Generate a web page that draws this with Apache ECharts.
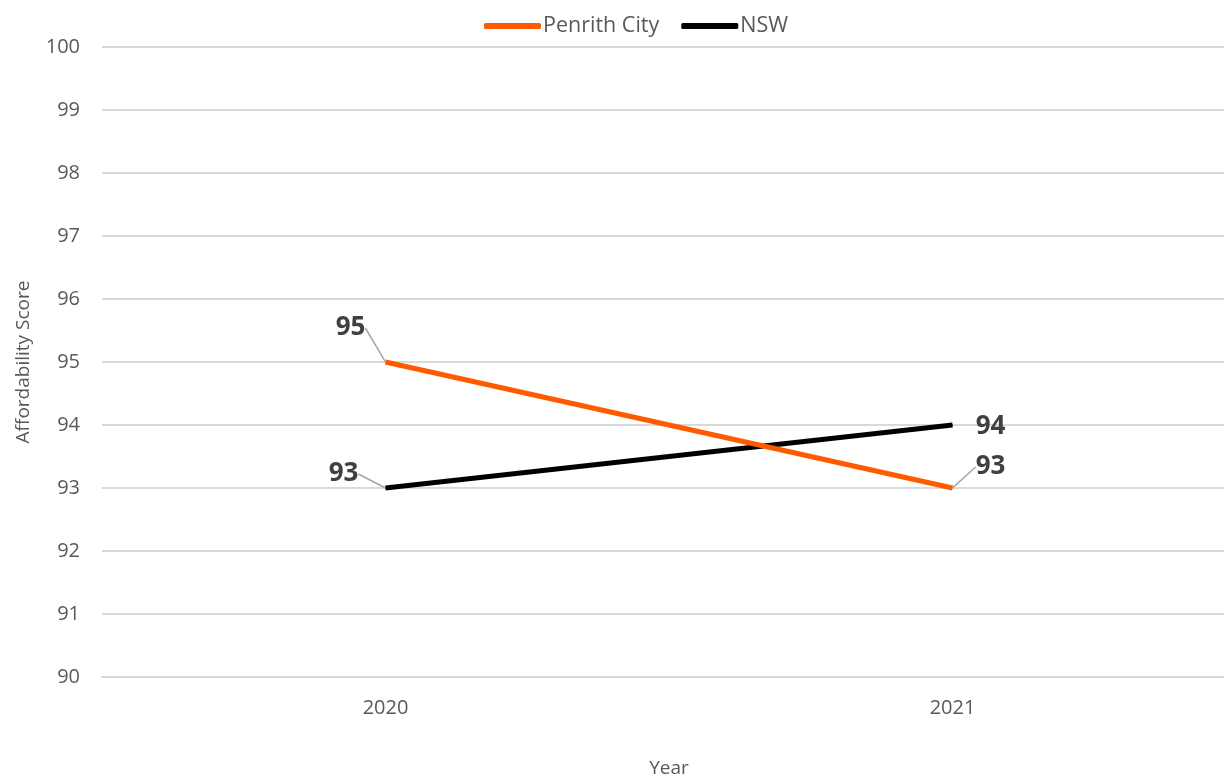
<!DOCTYPE html>
<html>
<head>
<meta charset="utf-8">
<script src="https://cdn.jsdelivr.net/npm/echarts@6/dist/echarts.min.js"></script>
<style>
  html, body { margin: 0; padding: 0; background: #fff; }
  #chart { width: 1224px; height: 778px; }
</style>
</head>
<body>
<div id="chart"></div>
<script>
  // data
  const years = ['2020', '2021']
  const penrith = [95, 93]
  const nsw = [93, 94]

  // label offsets per point (dx, dy), by series
  const penrithOffsets = [[-35, -34], [38, -21]]
  const nswOffsets = [[-42, -14], [38, 2]]
  // points whose label sits straight beside it, no leader line
  const nswNoLeader = [1]

  const font = '"Open Sans", "Liberation Sans", sans-serif'

  let chart = echarts.init(document.getElementById('chart'))

  let labelStyle = {
    show: true,
    position: 'inside',
    fontFamily: font,
    fontSize: 26,
    fontWeight: 'bold',
    color: '#404040',
  }

  let nswData = nsw.map((v, i) =>
    nswNoLeader.includes(i) ? { value: v, labelLine: { show: false } } : v,
  )

  chart.setOption({
    animation: false,
    textStyle: { fontFamily: font },
    legend: {
      top: 10,
      left: 479,
      itemWidth: 57,
      itemHeight: 6,
      itemGap: 22,
      icon: 'roundRect',
      textStyle: { fontSize: 21.5, color: '#595959', padding: [0, 0, 0, -3] },
      data: ['Penrith City', 'NSW'],
    },
    grid: { left: 102, top: 47, width: 1134, height: 630, outerBoundsMode: 'none', containLabel: false },
    xAxis: {
      type: 'category',
      data: years,
      boundaryGap: true,
      name: 'Year',
      nameLocation: 'middle',
      nameGap: 82,
      nameTextStyle: { fontSize: 19, color: '#595959' },
      axisLine: { lineStyle: { color: '#d9d9d9', width: 2 } },
      axisTick: { show: false },
      axisLabel: { fontSize: 20, color: '#595959', margin: 21 },
    },
    yAxis: {
      type: 'value',
      min: 90,
      max: 100,
      interval: 1,
      name: 'Affordability Score',
      nameLocation: 'middle',
      nameGap: 69,
      nameTextStyle: { fontSize: 19, color: '#595959' },
      axisLine: { show: false },
      axisTick: { show: false },
      axisLabel: { fontSize: 20, color: '#595959', margin: 22 },
      splitLine: { lineStyle: { color: '#d9d9d9', width: 2 } },
    },
    series: [
      {
        name: 'Penrith City',
        type: 'line',
        data: penrith,
        symbol: 'circle',
        symbolSize: 1,
        showSymbol: true,
        color: '#FF5A00',
        lineStyle: { width: 5, color: '#FF5A00' },
        label: labelStyle,
        labelLine: { show: true, lineStyle: { color: '#a6a6a6', width: 1.5 } },
        labelLayout: (p) => ({ dx: penrithOffsets[p.dataIndex][0], dy: penrithOffsets[p.dataIndex][1] }),
        z: 3,
      },
      {
        name: 'NSW',
        type: 'line',
        data: nswData,
        symbol: 'circle',
        symbolSize: 1,
        showSymbol: true,
        color: '#000000',
        lineStyle: { width: 5, color: '#000000' },
        label: labelStyle,
        labelLine: { show: true, lineStyle: { color: '#a6a6a6', width: 1.5 } },
        labelLayout: (p) => ({ dx: nswOffsets[p.dataIndex][0], dy: nswOffsets[p.dataIndex][1] }),
        z: 2,
      },
    ],
  })
</script>
</body>
</html>
